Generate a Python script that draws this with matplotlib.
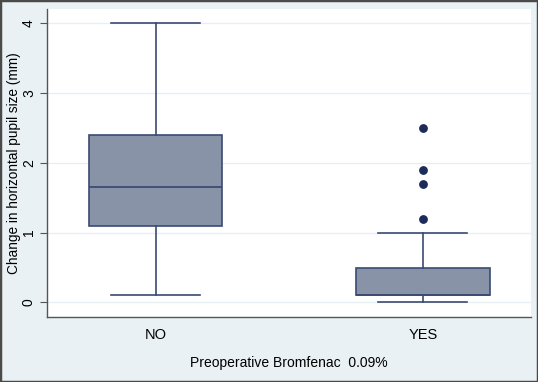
import matplotlib
matplotlib.use("Agg")
import matplotlib.pyplot as plt
from matplotlib.patches import Rectangle

plt.rcParams['font.family'] = ['Liberation Sans', 'DejaVu Sans']

# summary values
groups = ['NO', 'YES']
whisker_low = [0.1, 0.0]
q1 = [1.1, 0.1]
median = [1.65, 0.1]
q3 = [2.4, 0.5]
whisker_high = [4.0, 1.0]
outliers = [[], [1.2, 1.7, 1.9, 2.5]]

edge = '#3b4a73'
fill = '#8893a8'
bg = '#e9f1f4'

stats = []
for i, g in enumerate(groups):
    stats.append({'label': g, 'whislo': whisker_low[i], 'q1': q1[i],
                  'med': median[i], 'q3': q3[i], 'whishi': whisker_high[i],
                  'fliers': outliers[i]})

fig = plt.figure(figsize=(5.38, 3.82), dpi=100)
fig.patch.set_facecolor(bg)
ax = fig.add_axes([0.0874, 0.170, 0.8996, 0.8057])
ax.set_facecolor('white')

ax.bxp(stats, positions=[1, 2], widths=0.5, patch_artist=True,
       boxprops=dict(facecolor=fill, edgecolor=edge, linewidth=1.2),
       medianprops=dict(color=edge, linewidth=1.3),
       whiskerprops=dict(color=edge, linewidth=1.2),
       capprops=dict(color=edge, linewidth=1.2), capwidths=0.333,
       flierprops=dict(marker='o', markerfacecolor='#1c2b5a',
                       markeredgecolor='#1c2b5a', markersize=5.3),
       zorder=3)

ax.set_xlim(0.594, 2.404)
ax.set_ylim(-0.21, 4.2)
ax.set_yticks([0, 1, 2, 3, 4])
ax.set_yticklabels(['0', '1', '2', '3', '4'], rotation=90, va='center')
ax.yaxis.grid(True, color='#e6eff2', linewidth=0.9, zorder=0)
ax.tick_params(axis='y', length=5, width=0.8, color='#555555', labelsize=10, pad=3)
ax.tick_params(axis='x', length=0, labelsize=10.5, pad=8)

for s in ['top', 'right']:
    ax.spines[s].set_visible(False)
for s in ['left', 'bottom']:
    ax.spines[s].set_color('#555555')
    ax.spines[s].set_linewidth(1.0)

ax.set_ylabel('Change in horizontal pupil size (mm)', fontsize=9.8, labelpad=1)
ax.set_xlabel('Preoperative Bromfenac  0.09%', fontsize=10, labelpad=10)

fig.add_artist(Rectangle((0, 0), 1, 1, transform=fig.transFigure,
                         fill=False, edgecolor='#4a4a4a', linewidth=2.5))

fig.savefig('out.png', dpi=100, facecolor=bg)
